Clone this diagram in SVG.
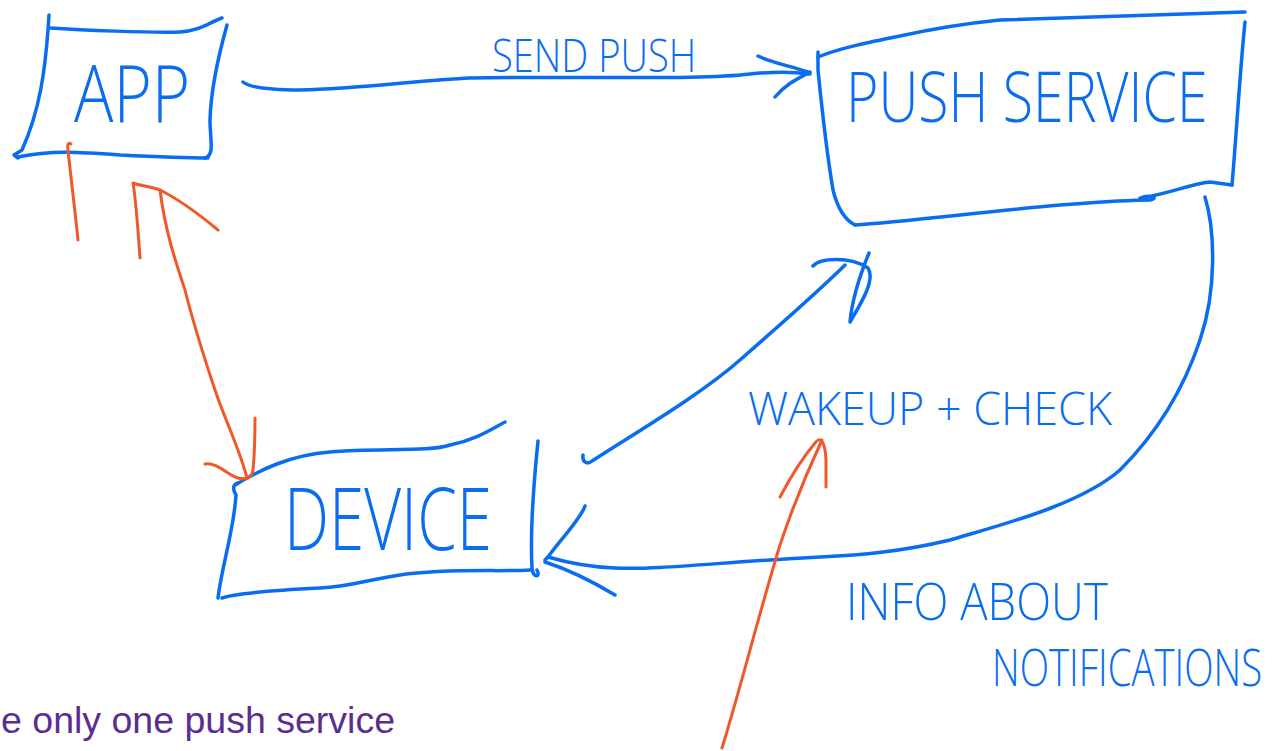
<svg xmlns="http://www.w3.org/2000/svg" width="1275" height="751" viewBox="0 0 1275 751">
<style>
.b{fill:none;stroke:#0a6cf0;stroke-width:3.5;stroke-linecap:round;stroke-linejoin:round}
.o{fill:none;stroke:#f0582a;stroke-width:3;stroke-linecap:round;stroke-linejoin:round}
.t{fill:#0a6cf0;font-family:"Open Sans","Liberation Sans",Arial,sans-serif;font-weight:300}
.p{fill:#5c2d91;font-family:"Liberation Sans",Arial,sans-serif}
</style>
<rect width="1275" height="751" fill="#ffffff"/>
<g id="app">
<path class="b" d="M50,28 C80,30 150,33 180,32 C200,31 210,22 222,18"/>
<path class="b" d="M49,15 L48,30 C45,70 40,110 22,150 L14,155 L18,158"/>
<path class="b" d="M227,25 C220,50 211,85 210,120 C210,140 215,155 205,158"/>
<path class="b" d="M18,157 C50,150 80,152 120,155 C160,157 190,158 208,158"/>
<text class="t" transform="translate(74,122) scale(0.83,1)" x="0" y="0" font-size="80" textLength="140" lengthAdjust="spacingAndGlyphs">APP</text>
</g>
<g id="push-service">
<path class="b" d="M818,57 C840,48 870,42 900,36 C950,25 980,22 1000,20 C1100,17 1180,14 1245,12"/>
<path class="b" d="M818,52 L818,70 C822,110 828,160 833,190 C838,210 845,220 855,225"/>
<path class="b" d="M855,225 C900,222 1000,210 1060,205 C1100,202 1125,200 1150,200 C1160,198 1150,194 1140,198 C1165,195 1190,184 1210,182 L1232,185"/>
<path class="b" d="M1245,22 C1240,70 1236,140 1232,185"/>
<text class="t" transform="translate(846,122) scale(0.8,1)" x="0" y="0" font-size="70" textLength="452" lengthAdjust="spacingAndGlyphs">PUSH SERVICE</text>
</g>
<g id="device">
<path class="b" d="M235,485 C260,470 290,455 330,452 C380,448 430,452 450,445 C475,440 490,430 505,422"/>
<path class="b" d="M238,483 C232,485 233,490 236,495 C234,530 222,565 218,598"/>
<path class="b" d="M222,598 C235,593 280,590 320,588 C350,587 365,580 400,575 C450,568 500,572 530,570"/>
<path class="b" d="M538,441 C534,480 530,530 532,568 C533,578 541,578 537,570"/>
<text class="t" transform="translate(284,550) scale(0.74,1)" x="0" y="0" font-size="86" textLength="281" lengthAdjust="spacingAndGlyphs">DEVICE</text>
</g>
<g id="connectors">
<path class="b" d="M243,82 C250,88 270,90 300,90 C360,89 420,80 470,78 C600,76 700,80 750,74 C770,72 795,72 810,74"/>
<path class="b" d="M758,56 C770,62 790,66 808,72 M775,97 C785,85 795,80 810,72"/>
<path class="b" d="M583,455 C582,462 587,465 592,461 C640,430 700,395 740,360 C780,325 820,290 845,265"/>
<path class="b" d="M813,266 C820,258 850,256 868,268 C876,280 860,305 850,322 C852,300 860,275 869,253"/>
<path class="b" d="M1205,197 C1215,230 1217,290 1200,340 C1180,400 1150,440 1120,470 C1080,505 1000,525 950,540 C900,552 860,555 820,557 C720,562 660,570 615,568 C590,567 565,562 548,557"/>
<path class="b" d="M585,506 C580,520 560,540 548,557 L545,560 M545,562 C570,570 590,580 615,595"/>
<path class="o" d="M78,240 C75,210 70,170 68,150 C67,145 68,142 71,144"/>
<path class="o" d="M140,258 C138,230 136,200 133,183 C140,186 150,186 160,190 C180,200 200,215 218,230"/>
<path class="o" d="M160,190 C165,230 175,260 185,290 C195,330 205,360 215,390 C225,420 240,450 247,478"/>
<path class="o" d="M205,464 C215,462 225,472 235,477 C245,481 252,478 253,470 C255,450 255,430 255,418"/>
<path class="o" d="M722,748 C740,690 760,610 780,545 C795,500 808,470 822,440"/>
<path class="o" d="M780,497 C790,478 805,455 815,443 C820,436 825,440 826,460 L826,487"/>
<text class="t" transform="translate(492,72) scale(0.83,1)" x="0" y="0" font-size="46" textLength="246" lengthAdjust="spacingAndGlyphs">SEND PUSH</text>
<text class="t" x="748" y="425" font-size="46" textLength="364" lengthAdjust="spacingAndGlyphs">WAKEUP + CHECK</text>
<text class="t" transform="translate(846,620) scale(0.87,1)" x="0" y="0" font-size="52" textLength="301" lengthAdjust="spacingAndGlyphs">INFO ABOUT</text>
<text class="t" transform="translate(992,686) scale(0.73,1)" x="0" y="0" font-size="52" textLength="370" lengthAdjust="spacingAndGlyphs">NOTIFICATIONS</text>
</g>
<text class="p" x="1" y="733" font-size="36" textLength="394" lengthAdjust="spacingAndGlyphs">e only one push service</text>
</svg>
